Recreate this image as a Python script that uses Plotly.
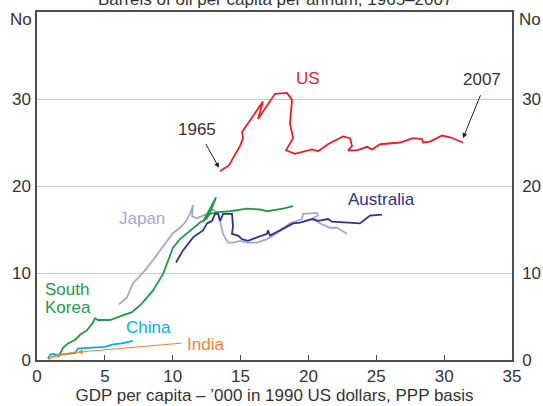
import plotly.graph_objects as go

# ── Data (GDP per capita '000 1990 USD PPP, barrels of oil per capita) ─────────

us_x = [13.49, 14.15, 14.96, 15.18, 15.11, 15.92, 16.65, 16.29, 17.54, 18.42,
        18.79, 18.64, 18.87, 18.35, 19.01, 20.27, 20.71, 21.44, 22.55, 23.07,
        23.21, 22.92, 23.58, 24.32, 24.69, 25.28, 26.75, 27.71, 28.37, 28.45,
        28.96, 29.85, 30.43, 31.39]
us_y = [21.7, 22.4, 24.6, 25.5, 26.2, 28.0, 29.7, 27.7, 30.6, 30.7,
        29.9, 27.2, 25.5, 24.1, 23.7, 24.2, 24.0, 24.8, 25.7, 25.5,
        24.6, 24.1, 24.1, 24.5, 24.2, 24.8, 25.0, 25.5, 25.4, 25.0,
        25.1, 25.8, 25.6, 25.0]

aus_x = [10.24, 10.76, 11.50, 12.23, 12.53, 12.90, 13.12, 13.34, 13.49, 13.71,
         14.37, 14.44, 14.37, 14.81, 15.11, 15.55, 16.21, 16.95, 17.02, 17.17,
         17.91, 18.87, 19.38, 20.27, 20.71, 21.44, 21.74, 22.84, 23.80, 24.54,
         25.42]
aus_y = [11.2, 12.6, 14.1, 14.9, 15.7, 16.0, 16.8, 16.8, 16.0, 16.8,
         16.8, 15.4, 14.5, 14.3, 13.9, 13.7, 14.1, 14.5, 14.9, 14.3,
         14.9, 15.7, 15.8, 16.2, 16.0, 16.2, 15.9, 15.8, 15.7, 16.6,
         16.7]

jpn_x = [6.04, 6.63, 7.07, 7.96, 8.70, 9.29, 10.02, 10.54, 10.91, 11.27,
         11.50, 11.42, 11.79, 12.53, 12.97, 13.34, 13.49, 13.71, 14.08, 14.44,
         14.96, 15.48, 16.21, 16.95, 17.69, 18.64, 19.53, 19.60, 20.63, 20.71,
         20.34, 20.85, 21.37, 21.59, 22.11, 22.84]
jpn_y = [6.4, 7.2, 8.8, 10.3, 11.8, 13.1, 14.6, 15.2, 15.8, 16.8,
         17.8, 16.5, 16.3, 16.8, 17.3, 16.8, 16.0, 14.5, 13.5, 13.5,
         13.7, 13.5, 13.5, 13.9, 14.6, 15.7, 16.2, 16.8, 16.9, 16.6,
         16.3, 15.7, 15.4, 15.2, 15.2, 14.5]

kor_x = [1.55, 1.92, 2.28, 2.80, 3.17, 3.68, 4.13, 4.27, 4.49, 5.38,
         6.26, 7.00, 7.74, 8.55, 9.29, 9.66, 10.02, 10.54, 11.27, 12.01,
         12.53, 12.90, 13.19, 12.23, 12.75, 13.34, 14.22, 15.48, 16.43, 16.95,
         18.13, 18.87]
kor_y = [0.3, 1.4, 1.9, 2.3, 2.9, 3.4, 4.3, 4.8, 4.6, 4.6,
         5.1, 5.5, 6.5, 8.0, 9.9, 11.4, 12.9, 13.9, 14.9, 15.8,
         16.3, 17.5, 18.7, 15.9, 16.8, 17.0, 17.1, 17.4, 17.3, 17.1,
         17.4, 17.7]

chn_x = [0.81, 0.96, 1.18, 1.55, 2.80, 3.02, 3.76, 5.01, 5.60, 6.26, 7.07]
chn_y = [0.2, 0.6, 0.7, 0.6, 0.8, 1.3, 1.4, 1.5, 1.8, 1.9, 2.2]

ind_x = [0.8, 1.2, 1.7, 2.2, 2.7, 3.0]
ind_y = [0.1, 0.4, 0.6, 0.7, 0.8, 0.9]

x_ticks = [0, 5, 10, 15, 20, 25, 30, 35]
y_ticks = [0, 10, 20, 30]

# ── Style ─────────────────────────────────────────────────────────────────────

FONT = "Liberation Sans, Arial, sans-serif"
FS = 17
INK = "#333333"
AXIS = "#4d4d4d"
GRID = "#c8c8c8"
C = dict(us="#ee1c25", aus="#2e3192", jpn="#a6a8d2", kor="#1f9a48",
         chn="#00aeef", ind="#f47f31")

fig = go.Figure()

for xs, ys, col in [(jpn_x, jpn_y, C["jpn"]), (kor_x, kor_y, C["kor"]),
                    (aus_x, aus_y, C["aus"]), (us_x, us_y, C["us"]),
                    (chn_x, chn_y, C["chn"]), (ind_x, ind_y, C["ind"])]:
    fig.add_trace(go.Scatter(x=xs, y=ys, mode="lines",
                             line=dict(color=col, width=1.8),
                             showlegend=False, hoverinfo="skip"))

# dummy trace so the right-hand axis gets drawn
fig.add_trace(go.Scatter(x=[None], y=[None], yaxis="y2", showlegend=False))

axis_font = dict(family=FONT, size=FS, color=INK)


def label(text, x, y, color, **kw):
    fig.add_annotation(x=x, y=y, text=text, showarrow=False,
                       font=dict(family=FONT, size=FS, color=color), **kw)


def arrow(x0, y0, x1, y1, color):
    fig.add_annotation(x=x1, y=y1, ax=x0, ay=y0, axref="x", ayref="y",
                       text="", showarrow=True, arrowhead=2, arrowsize=1,
                       arrowwidth=1, arrowcolor=color)


label("US", 19.97, 32.3, C["us"])
label("1965", 11.79, 26.5, INK)
label("2007", 32.79, 32.2, INK)
label("Japan", 7.74, 16.3, C["jpn"])
label("Australia", 25.42, 18.5, C["aus"])
label("South", 0.44, 8.05, C["kor"], xanchor="left")
label("Korea", 0.44, 6.0, C["kor"], xanchor="left")
label("China", 8.18, 3.7, C["chn"])
label("India", 10.9, 1.75, C["ind"], xanchor="left")

arrow(12.38, 25.0, 13.41, 22.1, "#222222")
arrow(32.72, 30.6, 31.39, 25.5, "#222222")
arrow(10.76, 1.95, 3.0, 0.9, C["ind"])

# units and (clipped) title
fig.add_annotation(xref="paper", yref="y", x=0, y=39.1, xanchor="right",
                   xshift=-3, text="No", showarrow=False, font=axis_font)
fig.add_annotation(xref="paper", yref="y", x=1, y=39.1, xanchor="left",
                   xshift=5, text="No", showarrow=False, font=axis_font)
fig.add_annotation(xref="paper", yref="paper", x=0.5, y=1, yanchor="bottom",
                   yshift=1, text="Barrels of oil per capita per annum, 1965–2007",
                   showarrow=False, font=axis_font)

fig.update_layout(
    width=543, height=406,
    margin=dict(l=37, r=31, t=12, b=46),
    paper_bgcolor="white", plot_bgcolor="white",
    font=dict(family=FONT, size=FS, color=INK),
    xaxis=dict(range=[0, 35], tickvals=x_ticks, ticks="inside", ticklen=5,
               tickcolor=AXIS, showgrid=False, zeroline=False, automargin=False,
               showline=True, linecolor=AXIS, linewidth=1.5, mirror=True,
               tickfont=axis_font, ticklabelstandoff=0,
               title=dict(text="GDP per capita – ’000 in 1990 US dollars, PPP basis",
                          font=axis_font, standoff=0)),
    yaxis=dict(range=[0, 40], tickvals=y_ticks, ticks="", showgrid=True,
               gridcolor=GRID, gridwidth=1, zeroline=False, automargin=False,
               showline=True, linecolor=AXIS, linewidth=1.5,
               tickfont=axis_font, ticklabelstandoff=1),
    yaxis2=dict(range=[0, 40], tickvals=y_ticks, overlaying="y", side="right",
                showgrid=False, zeroline=False, showline=True, automargin=False,
                linecolor=AXIS, linewidth=1.5, tickfont=axis_font,
                ticklabelstandoff=5),
)

# the page body has a default 8px margin; drop it so the figure sits at 0,0
fig.write_html("out.html", config={"displayModeBar": False},
               post_script="document.body.style.margin='0';")
